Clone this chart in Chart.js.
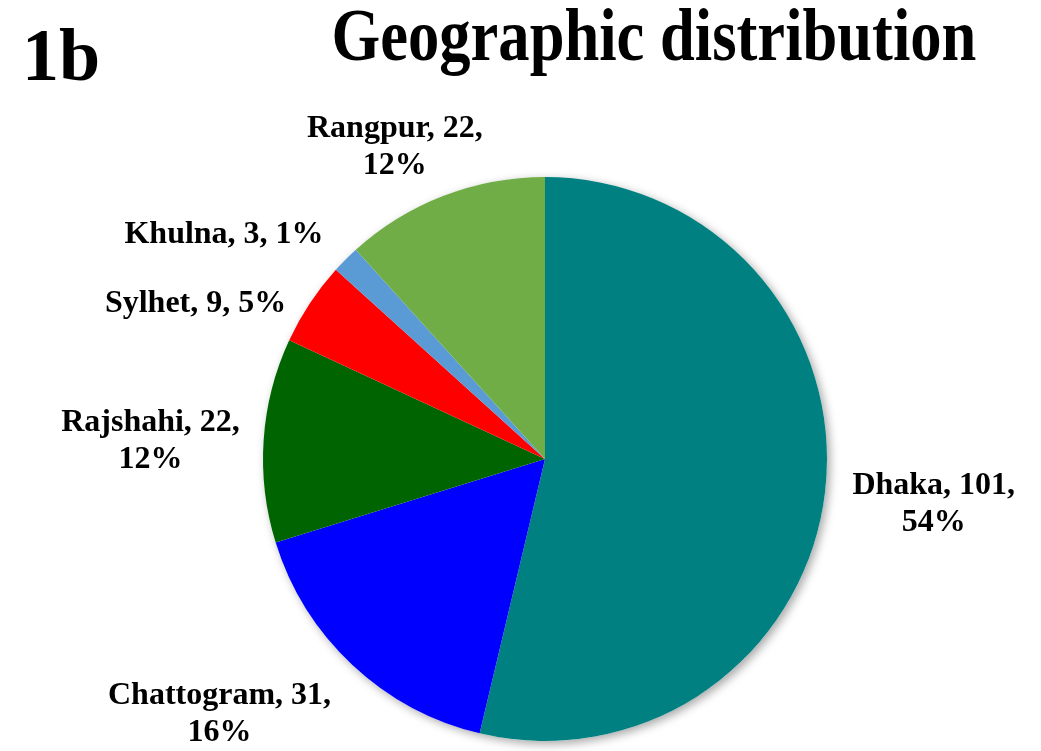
<!DOCTYPE html>
<html>
<head>
<meta charset="utf-8">
<script src="https://cdn.jsdelivr.net/npm/chart.js@4/dist/chart.umd.min.js"></script>
<style>
  html, body { margin: 0; padding: 0; background: #fff; }
  #wrap { width: 1041px; height: 751px; position: relative; }
</style>
</head>
<body>
<div id="wrap"><canvas id="pieChart" width="1041" height="751"></canvas></div>
<script>
const regions = ['Dhaka', 'Chattogram', 'Rajshahi', 'Sylhet', 'Khulna', 'Rangpur'];
const counts = [101, 31, 22, 9, 3, 22];
const percentLabels = ['54%', '16%', '12%', '5%', '1%', '12%'];
const sliceColors = ['#008080', '#0000FF', '#006400', '#FF0000', '#5B9BD5', '#70AD47'];

// small hand tweaks for where the data labels sit
const labelNudge = [[8, 6], [-43, 8], [-4, 5], [-22, 22], [-37, 2], [-10, 5]];

const serif = '"Liberation Serif", "Times New Roman", serif';
const labelFont = 'bold 32px ' + serif;
const lineHeight = 37;

// white disc with soft shadow under the slices
const pieShadow = {
    id: 'pieShadow',
    beforeDatasetsDraw(chart) {
        const arc = chart.getDatasetMeta(0).data[0];
        const ctx = chart.ctx;
        ctx.save();
        ctx.shadowColor = 'rgba(0,0,0,0.35)';
        ctx.shadowBlur = 10;
        ctx.shadowOffsetX = 3;
        ctx.shadowOffsetY = 3;
        ctx.fillStyle = '#fff';
        ctx.beginPath();
        ctx.arc(arc.x, arc.y, arc.outerRadius, 0, Math.PI * 2);
        ctx.fill();
        ctx.restore();
    }
};

// "Name, count, pct" labels outside each slice
const outsideLabels = {
    id: 'outsideLabels',
    afterDatasetsDraw(chart) {
        const ctx = chart.ctx;
        ctx.save();
        ctx.font = labelFont;
        ctx.fillStyle = '#000';
        ctx.textAlign = 'center';
        ctx.textBaseline = 'middle';
        chart.getDatasetMeta(0).data.forEach((arc, i) => {
            const mid = (arc.startAngle + arc.endAngle) / 2;
            const dx = Math.cos(mid), dy = Math.sin(mid);
            const full = regions[i] + ', ' + counts[i] + ', ' + percentLabels[i];
            let lines = [full];
            if (ctx.measureText(full).width > 200) {
                lines = [regions[i] + ', ' + counts[i] + ',', percentLabels[i]];
            }
            const w = Math.max(...lines.map(l => ctx.measureText(l).width));
            const h = lines.length * lineHeight;
            const ax = arc.x + (arc.outerRadius + 20) * dx;
            const ay = arc.y + (arc.outerRadius + 20) * dy;
            const cx = ax + dx * w / 2 + labelNudge[i][0];
            const cy = ay + dy * h / 2 + labelNudge[i][1];
            lines.forEach((l, k) => {
                ctx.fillText(l, cx, cy + (k - (lines.length - 1) / 2) * lineHeight);
            });
        });
        ctx.restore();
    }
};

// panel tag and heading
const headings = {
    id: 'headings',
    afterDraw(chart) {
        const ctx = chart.ctx;
        ctx.save();
        ctx.fillStyle = '#000';
        ctx.textBaseline = 'alphabetic';
        ctx.textAlign = 'left';
        ctx.font = 'bold 74px ' + serif;
        ctx.fillText('1b', 22, 80);
        ctx.translate(654, 60);
        ctx.scale(0.92, 1.08);
        ctx.textAlign = 'center';
        ctx.font = 'bold 68px ' + serif;
        ctx.fillText('Geographic distribution', 0, 0);
        ctx.restore();
    }
};

const pieCtx = document.getElementById('pieChart').getContext('2d');
new Chart(pieCtx, {
    type: 'pie',
    data: {
        labels: regions,
        datasets: [{
            data: counts,
            backgroundColor: sliceColors,
            borderWidth: 0,
        }],
    },
    options: {
        responsive: false,
        animation: false,
        layout: {
            padding: { top: 177, bottom: 10, left: 263, right: 214 },
        },
        plugins: {
            legend: { display: false },
            tooltip: { enabled: false },
        },
    },
    plugins: [pieShadow, outsideLabels, headings],
});
</script>
</body>
</html>
